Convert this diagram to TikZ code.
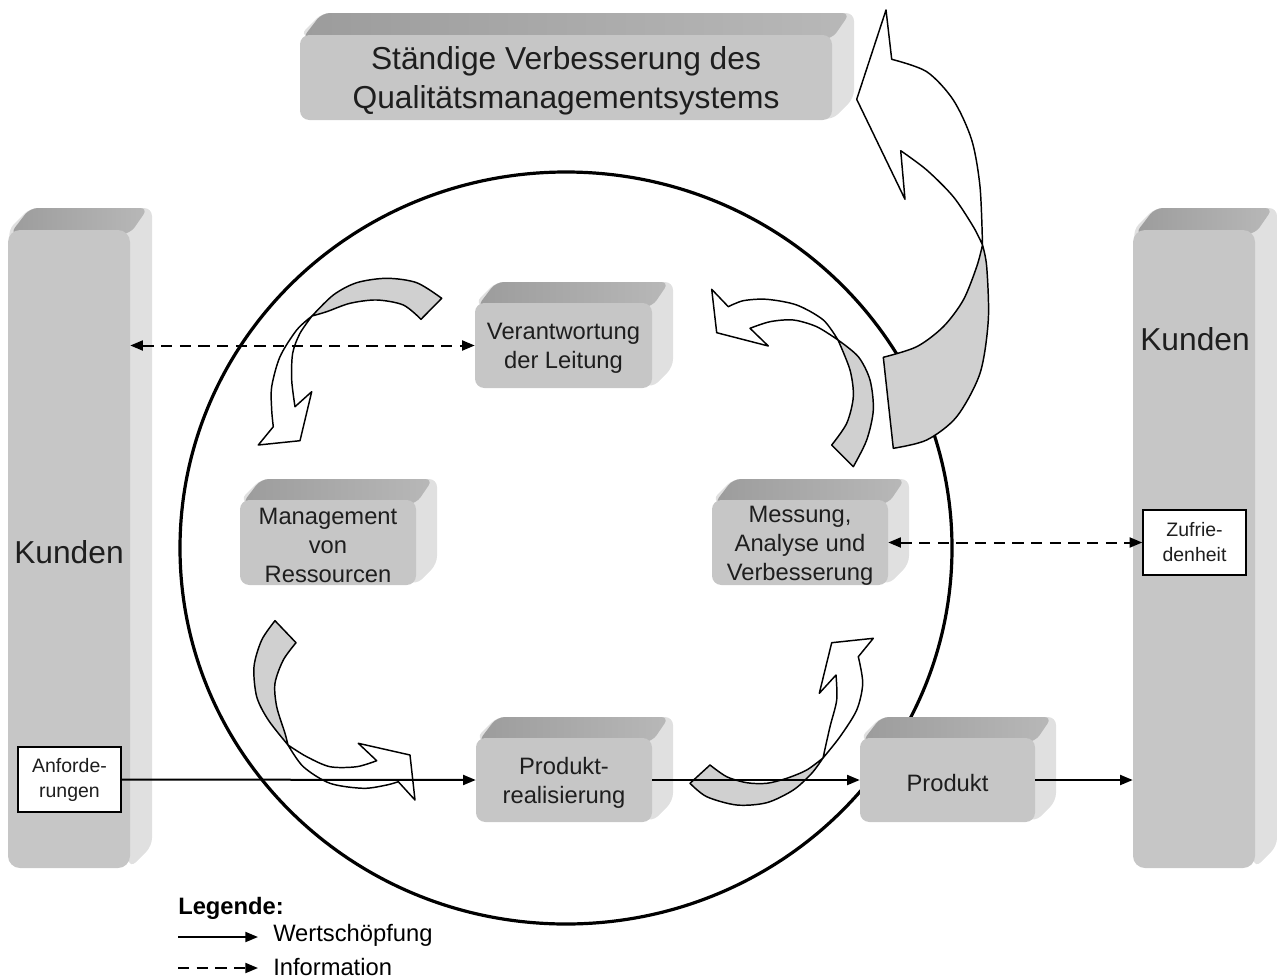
\documentclass[tikz,border=0pt]{standalone}
\usepackage{fontspec}
\setmainfont{Liberation Sans}
\usetikzlibrary{arrows.meta,calc}
\definecolor{frontcol}{HTML}{C6C6C6}
\definecolor{sidecol}{HTML}{E0E0E0}
\definecolor{topdark}{HTML}{9C9C9C}
\definecolor{toplight}{HTML}{B8B8B8}
\definecolor{arrowgray}{HTML}{D0D0D0}
\definecolor{textcol}{HTML}{1E1E1E}
\tikzset{
  cubefront/.style={rectangle, rounded corners=7pt, fill=frontcol, inner sep=0pt},
  cubetext/.style={inner sep=0pt, align=center, text=textcol},
  cubeside/.style={fill=sidecol},
  cubetop/.style={left color=topdark, right color=toplight},
  boxfont/.style={font=\fontsize{17.8}{21.8}\selectfont},
  bigfont/.style={font=\fontsize{23.8}{29.3}\selectfont},
  smallfont/.style={font=\fontsize{14.6}{18.8}\selectfont},
  whitebox/.style={rectangle, draw=black, line width=1.1pt, fill=white, inner sep=0pt, align=center, text=textcol, minimum width=77.25pt, minimum height=48.75pt},
  flow/.style={line width=1.5pt, -{Triangle[length=9.5pt,width=7.5pt]}},
  info/.style={line width=1.5pt, dash pattern=on 8.5pt off 5.5pt, {Triangle[length=9.5pt,width=7.5pt]}-{Triangle[length=9.5pt,width=7.5pt]}},
  infoone/.style={line width=1.5pt, dash pattern=on 8.5pt off 5.5pt, -{Triangle[length=9.5pt,width=7.5pt]}},
  band/.style={draw=black, line width=1.1pt, line join=round},
  bandgray/.style={band, fill=arrowgray},
  bandwhite/.style={band, fill=white},
  ring/.style={draw=black, line width=2.4pt},
}
% #1 name, #2 x1, #3 y1, #4 x2, #5 y2 (front face, px), #6 depth, #7 extra style, #8 text
\newcommand{\cubebox}[8]{%
  \fill[cubeside, rounded corners=6pt] (#2,#3) -- (#2+#6,#3-#6) -- (#4+#6,#3-#6) -- (#4+#6,#5-#6) -- (#4,#5) -- cycle;
  \shade[cubetop, rounded corners=6pt] (#2+2,#3+4) -- (#2+#6,#3-#6) -- (#4+#6-4,#3-#6) -- (#4,#3+4) -- cycle;
  \node[cubefront, #7, minimum width={(#4-#2)*0.75pt}, minimum height={(#5-#3)*0.75pt}] (#1) at ({(#2+#4)/2},{(#3+#5)/2}) {};
  \node[cubetext, #7] (#1-t) at ([yshift=-2.2pt]#1.center) {#8};
}
\begin{document}
\begin{tikzpicture}[x=0.75pt, y=-0.75pt]
\useasboundingbox (0,0) rectangle (1277,978);

% circle
\draw[ring] (566,548) ellipse [x radius=289.5pt, y radius=282pt];

% curved arrow 1 (Verantwortung -> Management)
\draw[bandgray] plot[smooth] coordinates {(441.7,298.3) (416.7,282.7) (386.7,278.3) (356.7,282.7) (333.3,295) (312,316)}
  -- plot[smooth] coordinates {(312,316) (326.7,311.7) (350,303.3) (376.7,300) (403.3,305) (421,319.3)} -- cycle;
\draw[bandwhite] plot[smooth] coordinates {(312,316) (296.7,330) (280,356.7) (271.7,386.7) (271.7,410) (273.3,426.7)}
  -- (258.3,445) -- (300,440.7) -- (311.7,391.7)
  -- plot[smooth] coordinates {(295,406.7) (291.7,380) (292.7,353) (300,333.3) (312,316)} -- cycle;

% curved arrow 2 (Messung -> Verantwortung)
\draw[bandgray] plot[smooth] coordinates {(853.3,466.7) (866.7,440) (873.3,410) (870,380) (858.3,356.7) (838,340)}
  -- plot[smooth] coordinates {(838,340) (850,370) (853.3,396.7) (846.7,423.3) (831.7,445)} -- cycle;
\draw[bandwhite] plot[smooth] coordinates {(838,340) (823.3,320) (796.7,305) (766.7,299.3) (743.3,300.7) (728.3,306.7)}
  -- (711.7,289.3) -- (716.7,332.7) -- (768.3,346)
  -- plot[smooth] coordinates {(750,328.3) (770,321.7) (793.3,320) (816.7,326.7) (838,340)} -- cycle;

% big arrow (Messung -> Staendige Verbesserung)
\draw[bandgray] plot[smooth] coordinates {(893.3,448.3) (926.7,440) (956.7,416.7) (980,373.3) (988.3,320) (986.7,266.7) (982.5,245)}
  -- plot[smooth] coordinates {(982.5,245) (976.7,266.7) (963.3,300) (943.3,326.7) (916.7,346.7) (883.3,357.3)} -- cycle;
\draw[bandwhite] plot[smooth] coordinates {(982.5,245) (980,186.7) (971.7,140) (953.3,100) (926.7,71.7) (891.7,59.3)}
  -- (886,10) -- (856.7,99.3) -- (905,199.3)
  -- plot[smooth] coordinates {(900.7,150.7) (926.7,170) (953.3,196.7) (973.3,226.7) (982.5,245)} -- cycle;

% curved arrow 3 (Management -> Produktrealisierung)
\draw[bandgray] plot[smooth] coordinates {(275,620.7) (261.7,640) (254,666.7) (256.7,696.7) (268.3,720) (288,745)}
  -- plot[smooth] coordinates {(288,745) (285,733.3) (276.7,706.7) (275,683.3) (283.3,660) (296,642.7)} -- cycle;
\draw[bandwhite] plot[smooth] coordinates {(288,745) (303.3,766.7) (330,783.3) (363.3,788.3) (386.7,785) (398.3,781.7)}
  -- (415,800) -- (410,755) -- (358.3,743.3)
  -- plot[smooth] coordinates {(376.7,760.7) (356.7,766.7) (330,766.7) (306.7,756.7) (288,745)} -- cycle;

% curved arrow 4 (Produktrealisierung -> Messung)
\draw[bandgray] plot[smooth] coordinates {(710,765) (726.7,776.7) (746.7,782.7) (766.7,783.3) (786.7,778.3) (806.7,770) (823,758)}
  -- plot[smooth] coordinates {(823,758) (811.7,773.3) (793.3,790) (766.7,802.7) (736.7,805) (706.7,796.7) (690,783.3)} -- cycle;
\draw[bandwhite] plot[smooth] coordinates {(823,758) (840,736.7) (856.7,710) (862.7,683.3) (858.3,656.7)}
  -- (873.3,638.3) -- (831.7,642.7) -- (819.3,693.3)
  -- plot[smooth] coordinates {(836,675) (836.7,700) (830,726.7) (823,758)} -- cycle;

% 3D boxes
\cubebox{top}{300}{35}{832}{120}{22}{bigfont}{Ständige Verbesserung des\\Qualitätsmanagementsystems}
\cubebox{kl}{8}{230}{130}{868}{22}{bigfont, rounded corners=9pt}{Kunden}
\cubebox{kr}{1133}{230}{1255}{868}{22}{bigfont, rounded corners=9pt}{}
\cubebox{ver}{475}{303}{652}{388}{21}{boxfont}{Verantwortung\\der Leitung}
\cubebox{man}{240}{500}{416}{585}{21}{boxfont}{Management\\von\\Ressourcen}
\cubebox{mes}{712}{500}{888}{585}{21}{boxfont}{Messung,\\Analyse und\\Verbesserung}
\cubebox{prod}{476}{738}{652}{822}{21}{boxfont}{Produkt-\\realisierung}
\cubebox{pro}{860}{738}{1035}{822}{21}{boxfont}{Produkt}

\node[bigfont, text=textcol, inner sep=0pt] (krl) at (1195,339) {Kunden};

% white boxes
\node[whitebox, smallfont] (anf) at (69.5,779.5) {Anforde-\\rungen};
\node[whitebox, smallfont] (zuf) at (1194.5,542.5) {Zufrie-\\denheit};

% connectors
\draw[info] (kl.east |- ver.west) -- (ver.west);
\draw[info] (mes.east) -- (zuf.west);
\draw[flow] (anf.east) -- (prod.west);
\draw[flow] (prod.east) -- (pro.west);
\draw[flow] (pro.east) -- (kr.west |- pro.east);

% legend
\node[anchor=west, inner sep=0pt, font=\bfseries\fontsize{17.8}{21}\selectfont] (leg) at (178,908) {Legende:};
\coordinate (l1a) at (178,937);
\coordinate (l1b) at (258,937);
\coordinate (l2a) at (178,968);
\coordinate (l2b) at (258,968);
\draw[flow] (l1a) -- (l1b);
\draw[infoone] (l2a) -- (l2b);
\node[anchor=west, inner sep=0pt, boxfont] (lw) at (273,935) {Wertschöpfung};
\node[anchor=west, inner sep=0pt, boxfont] (li) at (273,967) {Information};
\end{tikzpicture}
\end{document}
